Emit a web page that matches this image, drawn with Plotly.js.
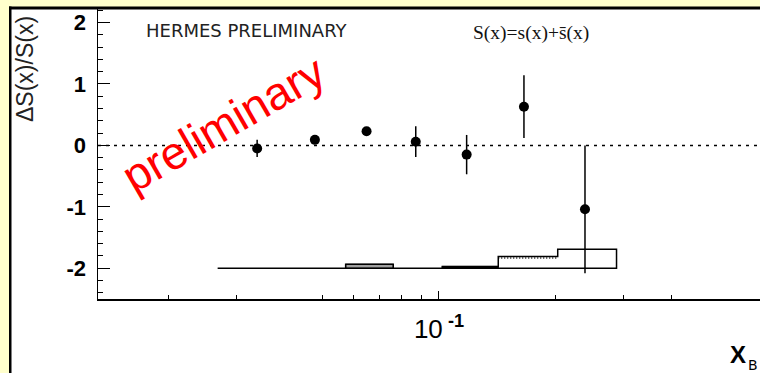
<!DOCTYPE html>
<html><head><meta charset="utf-8">
<script src="https://cdn.plot.ly/plotly-3.0.1.min.js"></script>
<style>html,body{margin:0;padding:0;background:#FFFFCC;overflow:hidden;}</style>
</head><body><div id="chart" style="width:760px;height:373px;"></div>
<script>
// ---- data ----
const xB = [0.0339, 0.0478, 0.0650, 0.0871, 0.1179, 0.1658, 0.2384];
const ratio = [-0.05, 0.09, 0.23, 0.06, -0.15, 0.63, -1.04];
const statErr = [0.14, 0.06, 0.06, 0.25, 0.32, 0.51, 1.04];
const sysEdges = [0.0268, 0.0574, 0.0762, 0.102, 0.1423, 0.2027, 0.2876];
const sysHeights = [0, 0.065, 0, 0.03, 0.19, 0.31];
const sysDotted = [null, null, null, null, 0.168, null];
const sysBase = -2;
const yTickVals = [-2, -1, 0, 1, 2];
const yTickText = ['-2', '-1', '0', '1', '2'];
const xTickVals = [0.1];
const xTickText = ['10<sup>&nbsp;<b>-1</b></sup>'];
const xMinorTicks = [0.02, 0.03, 0.05, 0.06, 0.07, 0.08, 0.09, 0.2, 0.3, 0.4];

// ---- styles ----
const binFill = [null, '#a0a0a0', null, '#000000', null, null];

const L = 98, T = 9, W = 662, H = 290;
const px = x => (x - L) / W;
const py = y => (T + H - y) / H;

const traces = [];
const ox = [sysEdges[0]], oy = [sysBase];
for (let i = 0; i < sysHeights.length; i++) {
  ox.push(sysEdges[i], sysEdges[i + 1]);
  oy.push(sysBase + sysHeights[i], sysBase + sysHeights[i]);
}
ox.push(sysEdges[sysEdges.length - 1], sysEdges[0]);
oy.push(sysBase, sysBase);
for (let i = 0; i < sysHeights.length; i++) {
  if (binFill[i]) {
    traces.push({x: [sysEdges[i], sysEdges[i+1], sysEdges[i+1], sysEdges[i], sysEdges[i]],
      y: [sysBase, sysBase, sysBase + sysHeights[i], sysBase + sysHeights[i], sysBase],
      mode: 'lines', fill: 'toself', fillcolor: binFill[i], line: {color: '#000', width: 1},
      hoverinfo: 'skip', showlegend: false});
  }
  if (sysDotted[i] !== null) {
    traces.push({x: [sysEdges[i], sysEdges[i+1]], y: [sysBase + sysDotted[i], sysBase + sysDotted[i]],
      mode: 'lines', line: {color: '#000', width: 1.5, dash: '1px,2px'}, hoverinfo: 'skip', showlegend: false});
  }
}
traces.push({x: ox, y: oy, mode: 'lines', line: {color: '#000', width: 1.5}, hoverinfo: 'skip', showlegend: false});
traces.push({x: xB, y: ratio, mode: 'markers', marker: {color: '#000', size: 10, symbol: 'circle'},
  error_y: {type: 'data', array: statErr, visible: true, color: '#000', thickness: 1.5, width: 0},
  hoverinfo: 'skip', showlegend: false});

const layout = {
  width: 760, height: 373,
  margin: {l: L, r: 0, t: T, b: 373 - T - H, pad: 0},
  paper_bgcolor: '#FFFFCC', plot_bgcolor: 'rgba(0,0,0,0)',
  showlegend: false,
  xaxis: {type: 'log', range: [-1.881, -0.1705], showgrid: false, zeroline: false,
    showline: true, linecolor: '#000', linewidth: 1.5,
    tickmode: 'array', tickvals: xTickVals, ticktext: xTickText,
    ticks: 'inside', ticklen: 8, tickwidth: 1, tickcolor: '#000',
    tickfont: {family: 'Liberation Sans, Arial', size: 26, color: '#000'},
    ticklabelstandoff: 6,
    minor: {tickmode: 'array', tickvals: xMinorTicks, ticks: 'inside', ticklen: 4, tickwidth: 1, tickcolor: '#000', showgrid: false}
  },
  yaxis: {range: [-2.5, 2.22], showgrid: false, zeroline: false,
    showline: true, linecolor: '#000', linewidth: 1.5,
    tickmode: 'array', tickvals: yTickVals, ticktext: yTickText,
    ticks: 'inside', ticklen: 12, tickwidth: 1, tickcolor: '#000',
    tickfont: {family: 'Liberation Sans, Arial', size: 22, color: '#000', weight: 'bold'},
    ticklabelstandoff: 6,
    minor: {dtick: 0.2, tick0: 0, ticks: 'inside', ticklen: 5, tickwidth: 1, tickcolor: '#000', showgrid: false}
  },
  shapes: [
    {type: 'rect', xref: 'paper', yref: 'paper', x0: px(11), x1: px(770), y0: py(380), y1: py(8), fillcolor: '#fff', line: {width: 0}, layer: 'below'},
    {type: 'line', xref: 'paper', yref: 'y', x0: 0, x1: 1, y0: 0, y1: 0, line: {color: '#000', width: 1.5, dash: '3px,5px'}, layer: 'below'},
    {type: 'rect', xref: 'paper', yref: 'paper', x0: px(9), x1: px(770), y0: py(9.5), y1: py(6.5), fillcolor: '#000', line: {width: 0}},
    {type: 'rect', xref: 'paper', yref: 'paper', x0: px(9), x1: px(11.5), y0: py(380), y1: py(6.5), fillcolor: '#000', line: {width: 0}}
  ],
  annotations: [
    {text: 'HERMES PRELIMINARY', xref: 'paper', yref: 'paper', x: px(247), y: py(30), xanchor: 'center', yanchor: 'middle', showarrow: false,
      font: {family: 'DejaVu Sans', size: 18, color: '#222'}},
    {text: 'S(x)=s(x)+s\u0304(x)', xref: 'paper', yref: 'paper', x: px(531), y: py(33), xanchor: 'center', yanchor: 'middle', showarrow: false,
      font: {family: 'Liberation Serif', size: 19.5, color: '#111'}},
    {text: 'preliminary', xref: 'paper', yref: 'paper', x: px(223), y: py(124), xanchor: 'center', yanchor: 'middle', showarrow: false, textangle: -30,
      font: {family: 'Liberation Sans, Arial', size: 46, color: '#ff0000'}},
    {text: '\u0394S(x)/S(x)', xref: 'paper', yref: 'paper', x: px(25), y: py(69), xanchor: 'center', yanchor: 'middle', showarrow: false, textangle: -90,
      font: {family: 'Liberation Sans, Arial', size: 23, color: '#222'}},
    {text: '<b>X</b>', xref: 'paper', yref: 'paper', x: px(737.5), y: py(354), xanchor: 'center', yanchor: 'middle', showarrow: false,
      font: {family: 'Liberation Sans, Arial', size: 24, color: '#000'}},
    {text: 'B', xref: 'paper', yref: 'paper', x: px(752.5), y: py(365), xanchor: 'center', yanchor: 'middle', showarrow: false,
      font: {family: 'DejaVu Sans', size: 14, color: '#000'}}
  ]
};
Plotly.newPlot('chart', traces, layout, {displayModeBar: false, staticPlot: true});
</script></body></html>
